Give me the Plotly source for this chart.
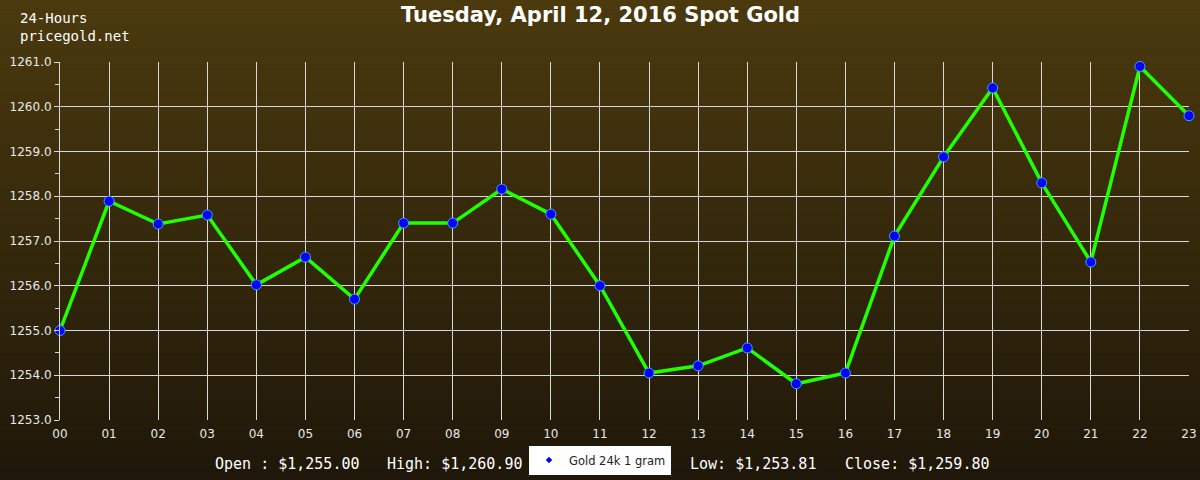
import plotly.graph_objects as go

hours = ["00","01","02","03","04","05","06","07","08","09","10","11",
         "12","13","14","15","16","17","18","19","20","21","22","23"]
prices = [1255.00, 1257.89, 1257.38, 1257.58, 1256.02, 1256.64, 1255.70, 1257.40,
          1257.40, 1258.16, 1257.60, 1256.00, 1254.05, 1254.21, 1254.61, 1253.81,
          1254.05, 1257.11, 1258.88, 1260.42, 1258.30, 1256.53, 1260.90, 1259.80]
title_text = "Tuesday, April 12, 2016 Spot Gold"
series_name = "Gold 24k 1 gram"
corner_lines = ["24-Hours", "pricegold.net"]
stats_labels = ["Open : $1,255.00", "High: $1,260.90", "Low: $1,253.81", "Close: $1,259.80"]
stats_x = [213, 385, 688, 843]
y_ticks = [1253.0, 1254.0, 1255.0, 1256.0, 1257.0, 1258.0, 1259.0, 1260.0, 1261.0]

W, H = 1200, 480
ML, MR, MT, MB = 60, 11, 62, 60
PW, PH = W - ML - MR, H - MT - MB

def px_x(px):
    return (px - ML) / PW

def px_y(py):
    return (H - py - MB) / PH

fig = go.Figure()
x_idx = list(range(len(hours)))
fig.add_trace(go.Scatter(
    x=x_idx, y=prices, mode="lines+markers", showlegend=False,
    line=dict(color="#22ff00", width=3.5),
    marker=dict(color="#0000ff", size=10, line=dict(color="#3fa0ff", width=1)),
    cliponaxis=False,
))
fig.add_trace(go.Scatter(
    x=[None], y=[None], mode="markers", name=series_name,
    marker=dict(color="#0000ff", size=5, symbol="diamond"),
))

# background vertical gradient via stripes
shapes = []
n = 96
top = (75, 58, 14)
bot = (31, 23, 9)
for i in range(n):
    t = i / (n - 1)
    c = tuple(round(top[k] + (bot[k] - top[k]) * t) for k in range(3))
    shapes.append(dict(type="rect", xref="paper", yref="paper",
                       x0=px_x(-2), x1=px_x(W + 2),
                       y0=px_y((i + 1) * H / n) - 0.002, y1=px_y(i * H / n) + 0.002,
                       fillcolor="rgb(%d,%d,%d)" % c, line=dict(width=0), layer="below"))

annotations = [
    dict(text="<b>" + title_text + "</b>", xref="paper", yref="paper", x=px_x(600), y=px_y(15),
         showarrow=False, font=dict(family="DejaVu Sans", size=21, color="white"),
         xanchor="center", yanchor="middle"),
    dict(text="<br>".join(corner_lines), xref="paper", yref="paper", x=px_x(18), y=px_y(27),
         showarrow=False, xanchor="left", yanchor="middle", align="left",
         font=dict(family="DejaVu Sans Mono", size=14, color="white")),
]
for lbl, px in zip(stats_labels, stats_x):
    annotations.append(dict(text=lbl, xref="paper", yref="paper", x=px_x(px), y=px_y(464),
                            showarrow=False, xanchor="left", yanchor="middle",
                            font=dict(family="DejaVu Sans Mono", size=15, color="white")))

fig.update_layout(
    width=W, height=H,
    margin=dict(l=ML, r=MR, t=MT, b=MB, autoexpand=False),
    paper_bgcolor="rgb(31,23,9)", plot_bgcolor="rgba(0,0,0,0)",
    shapes=shapes, annotations=annotations,
    legend=dict(orientation="h", xref="container", yref="container",
                x=600 / W, y=20 / H, xanchor="center", yanchor="middle",
                bgcolor="white", font=dict(family="DejaVu Sans", size=11.5, color="#222222"),
                itemwidth=30),
    xaxis=dict(range=[0, 23], tickmode="array", tickvals=x_idx, ticktext=hours,
               showgrid=True, gridcolor="#d8d8d8", gridwidth=1, zeroline=False,
               tickfont=dict(family="DejaVu Sans", size=12, color="#e8e8e8"),
               ticks="outside", ticklen=3, tickcolor="rgba(0,0,0,0)", showline=False),
    yaxis=dict(range=[1253, 1261], tickvals=y_ticks, tickformat=".1f",
               showgrid=True, gridcolor="#d8d8d8", gridwidth=1, zeroline=False,
               ticks="outside", ticklen=5, tickcolor="#d8d8d8",
               tickfont=dict(family="DejaVu Sans", size=12, color="#e8e8e8"),
               minor=dict(dtick=0.5, ticks="outside", ticklen=4, tickcolor="#d8d8d8", showgrid=False),
               showline=True, linecolor="#d8d8d8", linewidth=1),
)
fig.write_html("out.html", config={"displayModeBar": False},
               post_script="document.body.style.margin='0';document.body.style.padding='0';document.body.style.overflow='hidden';")
